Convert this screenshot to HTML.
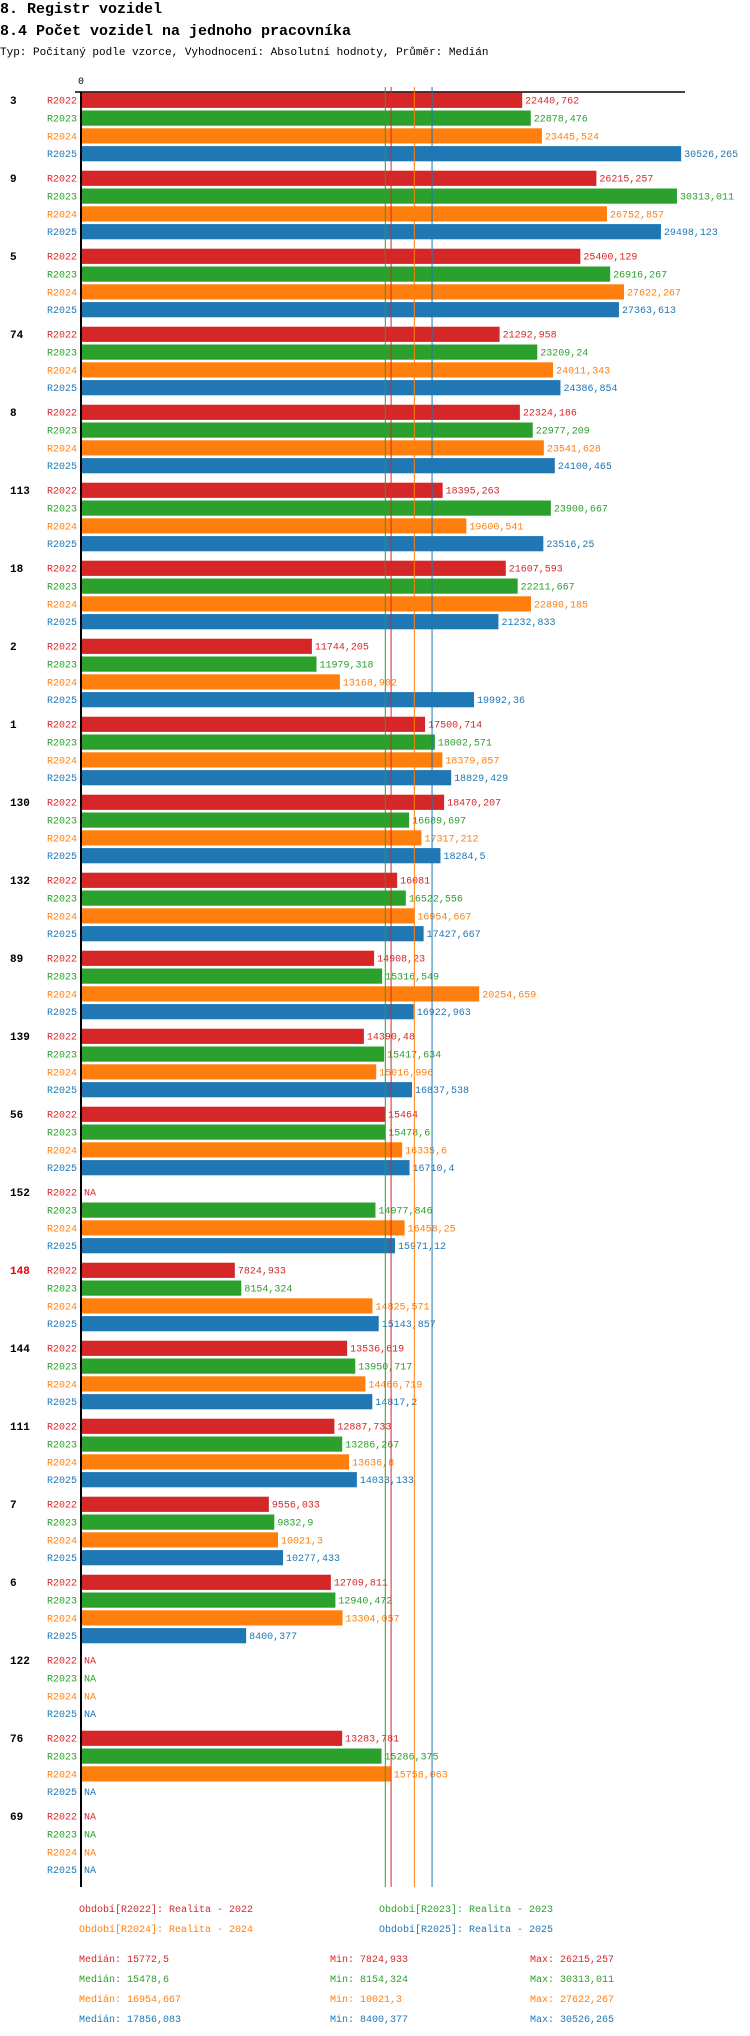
<!DOCTYPE html>
<html><head><meta charset="utf-8"><style>
body{margin:0;background:#fff;width:750px;height:2036px;overflow:hidden}
svg{display:block}
text{font-family:"Liberation Mono",monospace}
</style></head><body>
<svg id="c" width="750" height="2036">
<text x="0" y="13" font-size="15" font-weight="bold" fill="#000">8. Registr vozidel</text>
<text x="0" y="35" font-size="15" font-weight="bold" fill="#000">8.4 Počet vozidel na jednoho pracovníka</text>
<text x="0" y="55" font-size="11" fill="#000">Typ: Počítaný podle vzorce, Vyhodnocení: Absolutní hodnoty, Průměr: Medián</text>
</svg>
<script>
const groups=["3","9","5","74","8","113","18","2","1","130","132","89","139","56","152","148","144","111","7","6","122","76","69"];
const seriesNames=["R2022","R2023","R2024","R2025"];
const s2022=[22440.762,26215.257,25400.129,21292.958,22324.186,18395.263,21607.593,11744.205,17500.714,18470.207,16081,14908.23,14390.48,15464,null,7824.933,13536.619,12887.733,9556.033,12709.811,null,13283.781,null];
const s2023=[22878.476,30313.011,26916.267,23209.24,22977.209,23900.667,22211.667,11979.318,18002.571,16689.697,16522.556,15316.549,15417.634,15478.6,14977.846,8154.324,13950.717,13286.267,9832.9,12940.472,null,15286.375,null];
const s2024=[23445.524,26752.857,27622.267,24011.343,23541.628,19600.541,22890.185,13168.902,18379.857,17317.212,16954.667,20254.659,15016.996,16335.6,16458.25,14825.571,14466.719,13636.8,10021.3,13304.057,null,15758.063,null];
const s2025=[30526.265,29498.123,27363.613,24386.854,24100.465,23516.25,21232.833,19992.36,18829.429,18284.5,17427.667,16922.963,16837.538,16710.4,15971.12,15143.857,14817.2,14033.133,10277.433,8400.377,null,null,null];
const medians=[15772.5,15478.6,16954.667,17856.083];
const mins=[7824.933,8154.324,10021.3,8400.377];
const maxs=[26215.257,30313.011,27622.267,30526.265];
const legendNames=["Realita - 2022","Realita - 2023","Realita - 2024","Realita - 2025"];
const redGroups=["148"];

const colors=["#d62728","#2ca02c","#ff7f0e","#1f77b4"];
const series=[s2022,s2023,s2024,s2025];
const svg=document.getElementById('c');
const NS="http://www.w3.org/2000/svg";
const X0=81,PX=0.01966,TOP=92.7,GP=78,BP=17.8,BH=15.2;
const x=v=>X0+v*PX;
const fmt=v=>String(v).replace('.',',');
function el(t,a,txt){const e=document.createElementNS(NS,t);for(const k in a)e.setAttribute(k,a[k]);if(txt!=null)e.textContent=txt;svg.appendChild(e);return e;}

const zero=el('text',{x:X0-3,y:84,'font-size':10,fill:'#000'},'0');


const hl=el('line',{x1:75,x2:685,y1:92,y2:92,stroke:'#000','stroke-width':1.5});



groups.forEach((g,gi)=>{
  const gy=TOP+gi*GP;
  const gl=el('text',{x:10,y:gy+11.5,'font-size':11,'font-weight':'bold',fill:redGroups.includes(g)?'#e00':'#000'},g);
  
  
  series.forEach((s,si)=>{
    const y=gy+si*BP;const v=s[gi];
    const sl=el('text',{x:77,y:y+11,'font-size':10,fill:colors[si],'text-anchor':'end'},seriesNames[si]);
    
    
    if(v==null){
      const na=el('text',{x:84,y:y+11,'font-size':10,fill:colors[si]},'NA');
      
      
      return;
    }
    const r=el('rect',{x:X0,y:y,width:x(v)-X0,height:BH,fill:colors[si]});
    
    
    const vl=el('text',{x:x(v)+3,y:y+11,'font-size':10,fill:colors[si]},fmt(v));
    
    
  });
});
medians.forEach((m,i)=>{
  const l=el('line',{x1:x(m),x2:x(m),y1:87,y2:1887,stroke:colors[i],'stroke-width':1});
  
  
});
const ax=el('line',{x1:X0,x2:X0,y1:92,y2:1887,stroke:'#000','stroke-width':2});



const lpos=[[79,1912],[379,1912],[79,1932],[379,1932]];
seriesNames.forEach((n,i)=>{
  const t=el('text',{x:lpos[i][0],y:lpos[i][1],'font-size':10,fill:colors[i]},'Období['+n+']: '+legendNames[i]);
  
  
  const yy=1962+i*20;
  const a=el('text',{x:79,y:yy,'font-size':10,fill:colors[i]},'Medián: '+fmt(medians[i]));
  
  
  const b=el('text',{x:330,y:yy,'font-size':10,fill:colors[i]},'Min: '+fmt(mins[i]));
  
  
  const c=el('text',{x:530,y:yy,'font-size':10,fill:colors[i]},'Max: '+fmt(maxs[i]));
  
  
});
</script>
</body></html>
